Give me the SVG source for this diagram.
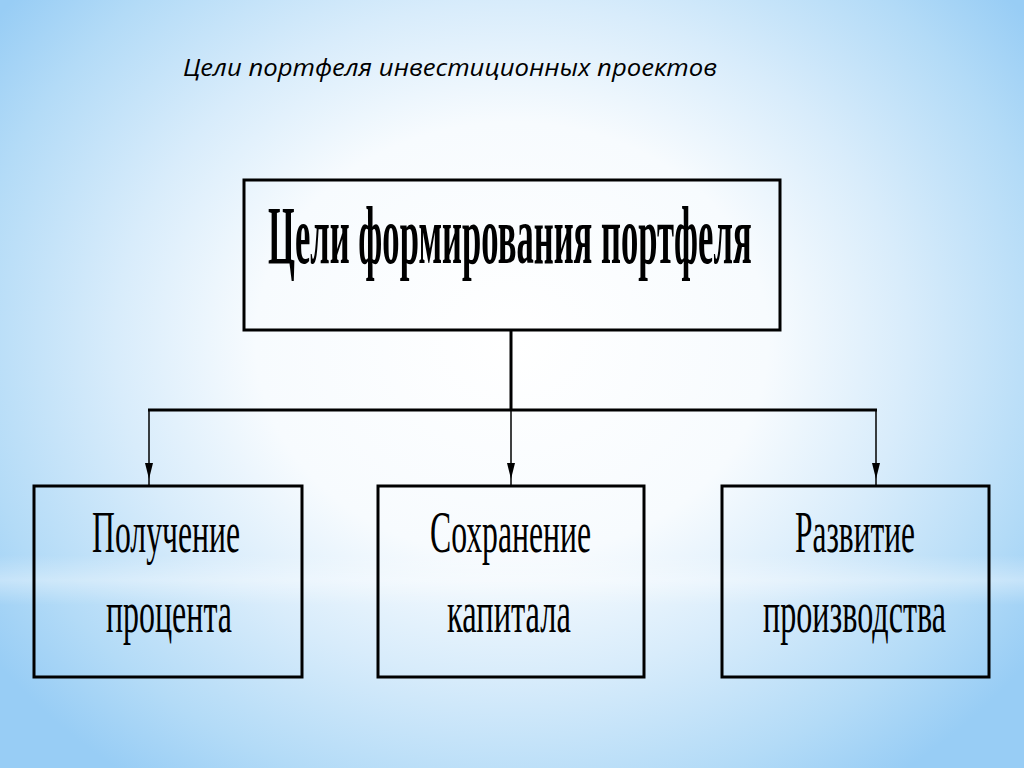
<svg xmlns="http://www.w3.org/2000/svg" width="1024" height="768" viewBox="0 0 1024 768">
<defs>
<radialGradient id="bg" cx="512" cy="340" r="640" gradientUnits="userSpaceOnUse" gradientTransform="translate(512 340) scale(1 0.85) translate(-512 -340)">
<stop offset="0" stop-color="#ffffff"/>
<stop offset="0.4" stop-color="#f7fbfe"/>
<stop offset="0.62" stop-color="#d8ecfb"/>
<stop offset="0.85" stop-color="#b3dbf7"/>
<stop offset="1" stop-color="#98cdf5"/>
</radialGradient>
<linearGradient id="band" x1="0" y1="0" x2="0" y2="1">
<stop offset="0" stop-color="#ffffff" stop-opacity="0"/>
<stop offset="0.5" stop-color="#ffffff" stop-opacity="0.35"/>
<stop offset="1" stop-color="#ffffff" stop-opacity="0"/>
</linearGradient>
</defs>
<style>
.box{fill:none;stroke:#000;stroke-width:3}
.lbl{font-family:"Liberation Serif","Times New Roman",serif;fill:#000}
.thick{stroke:#000;stroke-width:3;fill:none}
.thin{stroke:#000;stroke-width:1.5;fill:none}
.ah{fill:#000}
</style>
<rect width="1024" height="768" fill="url(#bg)"/>
<rect x="0" y="555" width="1024" height="50" fill="url(#band)"/>
<text x="183" y="76" font-family="'Open Sans','Noto Sans',sans-serif" font-style="italic" font-size="23" fill="#000" textLength="534" lengthAdjust="spacingAndGlyphs">Цели портфеля инвестиционных проектов</text>
<g id="connectors">
<line class="thick" x1="511" y1="330" x2="511" y2="410"/>
<line class="thick" x1="148" y1="410" x2="877" y2="410"/>
<line class="thin" x1="149" y1="410" x2="149" y2="486"/>
<line class="thin" x1="511" y1="410" x2="511" y2="486"/>
<line class="thin" x1="876" y1="410" x2="876" y2="486"/>
<path class="ah" d="M145,463 L153,463 L149,479 Z"/>
<path class="ah" d="M507,463 L515,463 L511,479 Z"/>
<path class="ah" d="M872,463 L880,463 L876,479 Z"/>
</g>
<g id="top">
<rect class="box" x="244" y="180" width="536" height="150"/>
<text class="lbl" transform="translate(268,263) scale(0.428,1)" font-size="82" font-weight="bold" textLength="1130" lengthAdjust="spacingAndGlyphs">Цели формирования портфеля</text>
</g>
<g id="left">
<rect class="box" x="34" y="486" width="268" height="191"/>
<text class="lbl" transform="translate(92,552) scale(0.527,1)" font-size="60" textLength="280.9" lengthAdjust="spacingAndGlyphs">Получение</text>
<text class="lbl" transform="translate(106,632) scale(0.534,1)" font-size="60" textLength="235.8" lengthAdjust="spacingAndGlyphs">процента</text>
</g>
<g id="middle">
<rect class="box" x="378" y="486" width="266" height="191"/>
<text class="lbl" transform="translate(430,552) scale(0.526,1)" font-size="60" textLength="306.2" lengthAdjust="spacingAndGlyphs">Сохранение</text>
<text class="lbl" transform="translate(447,632) scale(0.54,1)" font-size="60" textLength="229.4" lengthAdjust="spacingAndGlyphs">капитала</text>
</g>
<g id="right">
<rect class="box" x="722" y="486" width="267" height="191"/>
<text class="lbl" transform="translate(795,552) scale(0.524,1)" font-size="60" textLength="229.1" lengthAdjust="spacingAndGlyphs">Развитие</text>
<text class="lbl" transform="translate(763,632) scale(0.531,1)" font-size="60" textLength="344.6" lengthAdjust="spacingAndGlyphs">производства</text>
</g>
</svg>
